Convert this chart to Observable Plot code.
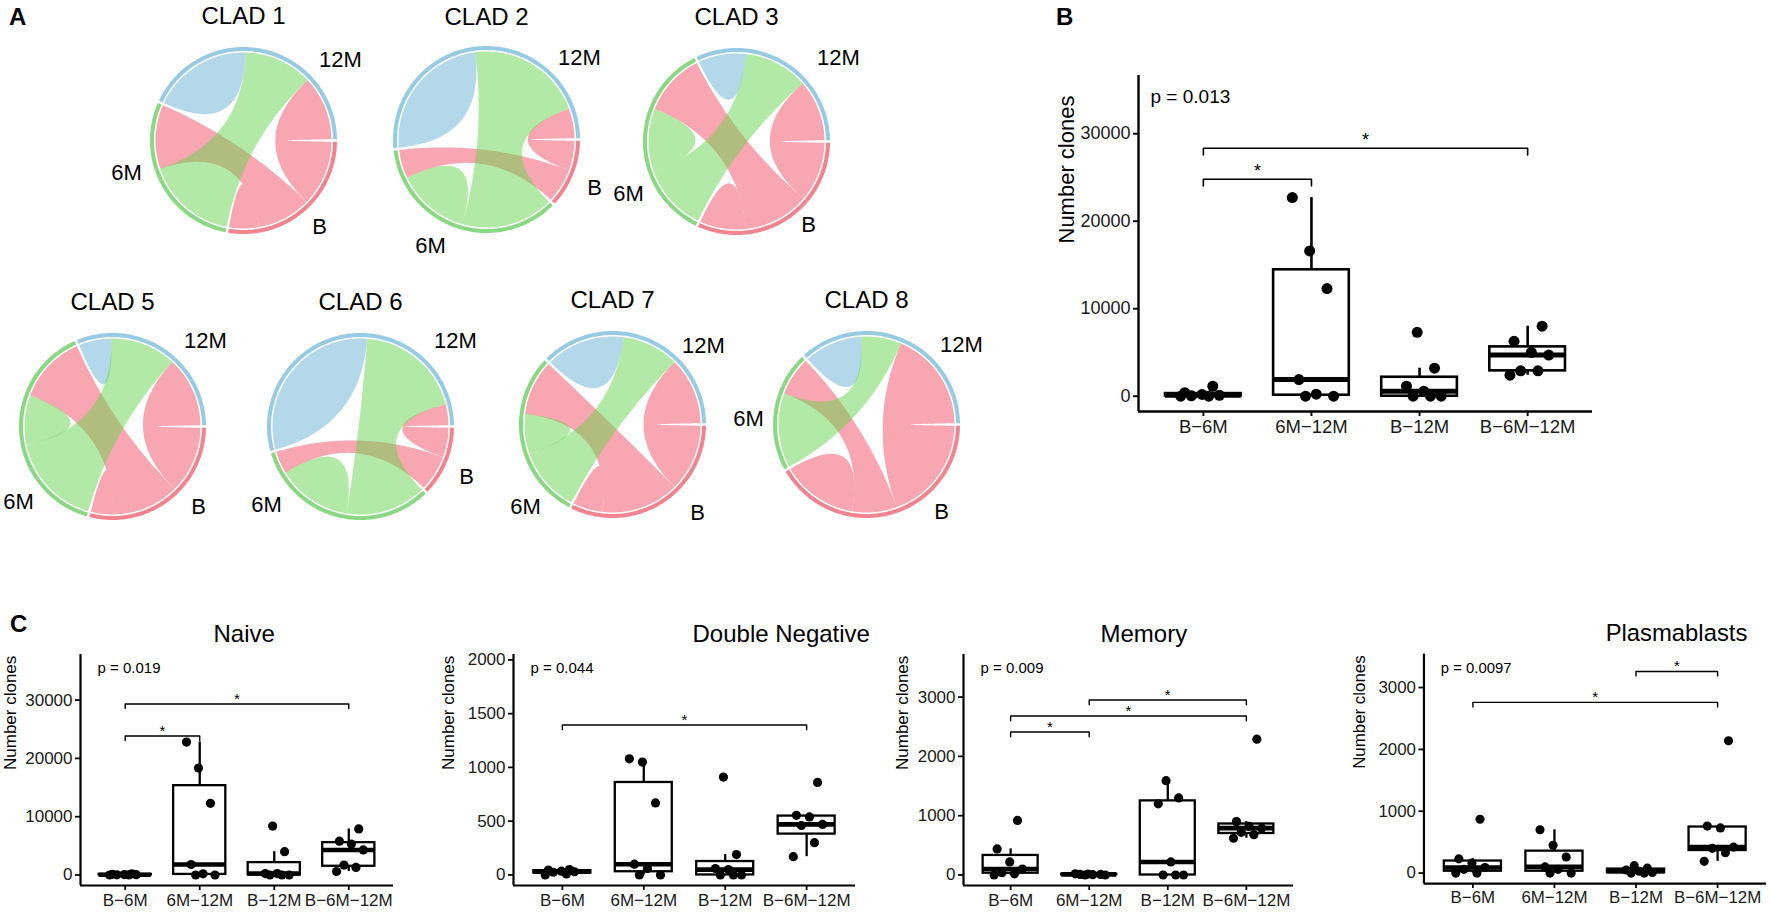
<!DOCTYPE html>
<html><head><meta charset="utf-8">
<script src="https://cdn.jsdelivr.net/npm/d3@7"></script>
<script src="https://cdn.jsdelivr.net/npm/@observablehq/plot@0.6"></script>
<style>
body{margin:0;background:#fff;}
#fig{position:relative;width:1772px;height:915px;overflow:hidden;background:#fff;font-family:"Liberation Sans",Arial,Helvetica,sans-serif;}
.pl{position:absolute;}
.letter{position:absolute;font-weight:bold;font-size:24px;line-height:24px;color:#000;}
</style></head><body><div id="fig"></div>
<script>
// ---------- DATA ----------
const groups = ["B−6M","6M−12M","B−12M","B−6M−12M"];
const cladNames = ["CLAD 1","CLAD 2","CLAD 3","CLAD 5","CLAD 6","CLAD 7","CLAD 8"];
// chord ends, counter-clockwise from 3 o'clock: [sector, link, width]
const clad1 = [["12M","B-12M",43],["12M","6M-12M",46],["12M","12M",67],["6M","B-6M",43],["6M","6M-12M",61],["B","B",20],["B","B-6M",36],["B","B-12M",44]];
const clad2 = [["12M","B-12M",20],["12M","6M-12M",78],["12M","12M",89],["6M","B-6M",19],["6M","6M",49],["6M","6M-12M",62],["B","B-6M",23],["B","B-12M",20]];
const clad3 = [["12M","B-12M",41],["12M","6M-12M",43],["12M","12M",32],["6M","B-6M",42],["6M","6M",42],["6M","6M-12M",45],["B","B",31],["B","B-6M",44],["B","B-12M",40]];
const clad5 = [["12M","B-12M",47],["12M","6M-12M",44],["12M","12M",22],["6M","B-6M",46],["6M","6M",33],["6M","6M-12M",63],["B","B",15],["B","B-6M",45],["B","B-12M",45]];
const clad6 = [["12M","B-12M",14],["12M","6M-12M",72],["12M","12M",111],["6M","B-6M",15],["6M","6M",50],["6M","6M-12M",54],["B","B-6M",24],["B","B-12M",20]];
const clad7 = [["12M","B-12M",45],["12M","6M-12M",38],["12M","12M",53],["6M","B-6M",37],["6M","6M",27],["6M","6M-12M",43],["B","B",20],["B","B-6M",52],["B","B-12M",45]];
const clad8 = [["12M","B-12M",67],["12M","6M-12M",27],["12M","12M",39],["6M","B-6M",26],["6M","6M-12M",50],["B","B",51],["B","B-6M",30],["B","B-12M",70]];

// number of clones per patient (7 patients) for each comparison group
const totalClones = [[0,0,50,100,200,400,1140],[0,0,230,1900,12300,16600,22700],[0,0,0,570,1140,3200,7300],[2400,2900,2900,4700,5000,6280,8000]];
const naiveClones = [[0,10,30,50,80,120,200],[0,0,200,1800,12300,18350,22800],[0,0,0,250,250,4000,8400],[600,1300,1700,4300,5300,5800,7900]];
const dnClones = [[0,10,25,30,35,45,50],[0,0,60,100,670,1050,1080],[0,0,0,50,60,190,910],[170,300,460,470,540,555,860]];
const memoryClones = [[0,20,40,100,220,440,920],[0,0,5,10,10,15,20],[0,0,0,220,1200,1300,1590],[620,680,720,790,820,900,2290]];
const plasmaClones = [[0,0,60,90,160,230,870],[0,0,60,100,260,450,700],[0,0,10,30,50,80,120],[190,330,400,420,730,760,2140]];
// significance brackets: [group a, group b, height]
const totalBrackets = [[0,3,28340],[0,1,24800]];
const naiveBrackets = [[0,3,29330],[0,1,23840]];
const dnBrackets = [[0,3,1394]];
const memoryBrackets = [[1,3,2950],[0,3,2680],[0,1,2410]];
const plasmaBrackets = [[2,3,3260],[0,3,2760]];
const pValues = ["p = 0.013","p = 0.019","p = 0.044","p = 0.009","p = 0.0097"];
const subsetTitles = ["Naive","Double Negative","Memory","Plasmablasts"];
const ticks30k = [0,10000,20000,30000];
const ticks2k = [0,500,1000,1500,2000];
const ticks3k = [0,1000,2000,3000];

// ---------- RENDER ----------
const FONT = '"Liberation Sans", Arial, Helvetica, sans-serif';
const fig = document.getElementById("fig");
function place(node, left, top){const d=document.createElement("div");d.className="pl";d.style.left=left+"px";d.style.top=top+"px";d.appendChild(node);fig.appendChild(d);}
function letter(t,left,top){const d=document.createElement("div");d.className="letter";d.textContent=t;d.style.left=left+"px";d.style.top=top+"px";fig.appendChild(d);}

// red & blue ribbons drawn as light opaque tints, green ribbons semi-transparent on top
const ribbonStyle = {"B":{col:"#F8A6B1",order:0},"12M":{col:"#B3D8EA",order:1},"6M":{col:"#67D34D",order:2}};
const trackColor = {"B":"#F2848F","6M":"#8AD784","12M":"#96CBE3"};

function chord(name, ends, lay){
  const RT=91.5, RR=88, gap=1.6, W=330, H=300;
  const total=d3.sum(ends,e=>e[2]);
  const k=(360-3*gap)/total;
  let a=gap/2, prev=null;
  const placed=ends.map(([sec,link,w])=>{ if(prev&&sec!==prev) a+=gap; prev=sec; const a0=a; a+=w*k; return {sec,link,a0,a1:a}; });
  const rad=d=>d*Math.PI/180;
  const pt=(ang,r)=>[r*Math.cos(rad(ang)),r*Math.sin(rad(ang))];
  const arcPts=(a0,a1,r)=>{const n=Math.max(2,Math.ceil(Math.abs(a1-a0)));return d3.range(n+1).map(i=>pt(a0+(a1-a0)*i/n,r));};
  const bez=(p,q)=>d3.range(1,48).map(i=>{const t=i/48,u=1-t;return [u*u*p[0]+t*t*q[0],u*u*p[1]+t*t*q[1]];});
  const ribbons=[];
  for(const [link,es] of d3.groups(placed,d=>d.link)){
    let poly;
    if(es.length===1){const e=es[0];poly=[...arcPts(e.a0,e.a1,RR),...bez(pt(e.a1,RR),pt(e.a0,RR))];}
    else{const [A,B]=es;poly=[...arcPts(A.a0,A.a1,RR),...bez(pt(A.a1,RR),pt(B.a0,RR)),...arcPts(B.a0,B.a1,RR),...bez(pt(B.a1,RR),pt(A.a0,RR))];}
    const st=ribbonStyle[link.split("-")[0]];
    poly.forEach(([x,y])=>ribbons.push({id:link,x,y,col:st.col,order:st.order}));
  }
  const layer=o=>ribbons.filter(d=>d.order===o);
  const tracks=d3.groups(placed,d=>d.sec).flatMap(([sec,es])=>arcPts(es[0].a0,es[es.length-1].a1,RT).map(([x,y])=>({sec,x,y,col:trackColor[sec]})));
  const labs=Object.entries(lay.labels).map(([t,[dx,dy]])=>({t,x:dx,y:-dy}));
  const chart=Plot.plot({
    width:W,height:H,margin:0,
    x:{domain:[-W/2,W/2],axis:null},y:{domain:[-H/2,H/2],axis:null},
    color:{type:"identity"},
    style:{fontFamily:FONT,background:"transparent",overflow:"visible",color:"#000"},
    marks:[
      ...[0,1,2].map(o=>Plot.line(layer(o),{x:"x",y:"y",z:"id",fill:"col",fillOpacity:o===2?0.5:1,stroke:"none",curve:"linear"})),
      Plot.line(tracks,{x:"x",y:"y",z:"sec",stroke:"col",strokeWidth:4,strokeLinecap:"butt",curve:"linear"}),
      Plot.text(labs,{x:"x",y:"y",text:"t",fontSize:22,fill:"#000"}),
      Plot.text([name],{x:0,y:lay.ty,text:d=>d,fontSize:24,fill:"#000"})
    ]
  });
  place(chart, lay.cx-W/2, lay.cy-H/2);
}

const chordLayout = [
  {cx:243,cy:140,ty:124,labels:{"12M":[97,-81],"6M":[-117,32],"B":[76,86]}},
  {cx:486,cy:139,ty:122,labels:{"12M":[93,-82],"B":[108,48],"6M":[-56,106]}},
  {cx:736,cy:141,ty:124,labels:{"12M":[102,-84],"6M":[-108,52],"B":[72,83]}},
  {cx:112,cy:426,ty:124,labels:{"12M":[93,-86],"6M":[-94,75],"B":[86,80]}},
  {cx:360,cy:426,ty:124,labels:{"12M":[95,-86],"B":[106,50],"6M":[-94,78]}},
  {cx:612,cy:424,ty:124,labels:{"12M":[91,-79],"6M":[-87,82],"B":[85,88]}},
  {cx:866,cy:424,ty:124,labels:{"12M":[95,-80],"6M":[-118,-6],"B":[75,87]}}
];
[clad1,clad2,clad3,clad5,clad6,clad7,clad8].forEach((e,i)=>chord(cladNames[i],e,chordLayout[i]));

const jit=(j,k)=>((((j*0.6180339+k*0.37)%1)-0.5)*0.42);

function boxPanel(o){
  const stats=o.values.map((vals,k)=>{
    const s=vals.slice().sort(d3.ascending);
    const q1=d3.quantile(s,.25),med=d3.quantile(s,.5),q3=d3.quantile(s,.75),iqr=q3-q1;
    return {i:k+1,q1,med,q3,lo:d3.min(s.filter(v=>v>=q1-1.5*iqr)),hi:d3.max(s.filter(v=>v<=q3+1.5*iqr))};
  });
  const pts=o.values.flatMap((vals,k)=>vals.map((v,j)=>({i:k+1,v,jit:jit(j,k)})));
  const span=o.yDomain[1]-o.yDomain[0], tip=0.02*span;
  const br=o.brackets.map(([a,b,y],n)=>({a:a+1,b:b+1,y,n}));
  const brPts=br.flatMap(d=>[{n:d.n,x:d.a,y:d.y-tip},{n:d.n,x:d.a,y:d.y},{n:d.n,x:d.b,y:d.y},{n:d.n,x:d.b,y:d.y-tip}]);
  const W=o.ml+o.pw+o.mr,H=o.mt+o.ph+o.mb;
  const marks=[
    Plot.axisY({ticks:o.yTicks,tickFormat:d3.format("d"),tickSize:5,tickPadding:3,fontSize:o.tickFont,label:null,strokeWidth:o.axisW*0.8,fill:"#1a1a1a"}),
    Plot.axisX({ticks:[1,2,3,4],tickFormat:d=>groups[d-1],tickSize:5,tickPadding:3,fontSize:o.xFont,label:null,strokeWidth:o.axisW*0.8,fill:"#1a1a1a"}),
    Plot.ruleX([0.4],{strokeWidth:o.axisW}),
    Plot.ruleY([o.yDomain[0]],{strokeWidth:o.axisW}),
    Plot.ruleX(stats,{x:"i",y1:"lo",y2:"q1",strokeWidth:o.lw}),
    Plot.ruleX(stats,{x:"i",y1:"q3",y2:"hi",strokeWidth:o.lw}),
    Plot.rect(stats,{x1:d=>d.i-0.35,x2:d=>d.i+0.35,y1:"q1",y2:"q3",fill:"white",stroke:"black",strokeWidth:o.lw}),
    Plot.ruleY(stats,{y:"med",x1:d=>d.i-0.35,x2:d=>d.i+0.35,strokeWidth:o.mw}),
    Plot.dot(pts,{x:d=>d.i+d.jit,y:"v",r:o.r,fill:"black",stroke:"none"}),
    Plot.line(brPts,{x:"x",y:"y",z:"n",stroke:"black",strokeWidth:o.bw}),
    Plot.text(br,{x:d=>(d.a+d.b)/2,y:"y",text:()=>"*",dy:o.starDy,fontSize:o.starFont,fill:"#000"}),
    Plot.text([o.p],{frameAnchor:"top-left",text:d=>d,textAnchor:"start",dx:o.pdx,dy:o.pdy,fontSize:o.pFont,fill:"#000"}),
    Plot.text(["Number clones"],{frameAnchor:"left",text:d=>d,rotate:-90,dx:-o.ylo,fontSize:o.yLabFont,fill:"#000"})
  ];
  if(o.title) marks.push(Plot.text([o.title],{frameAnchor:"top-left",text:d=>d,dx:o.titleX-o.axisX,dy:o.titleY-o.top,fontSize:o.titleFont,fill:"#000"}));
  const chart=Plot.plot({width:W,height:H,marginLeft:o.ml,marginRight:o.mr,marginTop:o.mt,marginBottom:o.mb,
    x:{domain:[0.4,4.6],axis:null},y:{domain:o.yDomain,axis:null},
    style:{fontFamily:FONT,background:"transparent",overflow:"visible",color:"#000"},marks});
  place(chart,o.axisX-o.ml,o.top-o.mt);
}

// Panel B
boxPanel({values:totalClones,brackets:totalBrackets,p:pValues[0],yTicks:ticks30k,yDomain:[-1745,36655],
  axisX:1138,pw:454,top:75,ph:336,ml:120,mr:10,mt:20,mb:50,
  tickFont:18,xFont:18.5,yLabFont:22,pFont:19,starFont:18,starDy:-8,pdx:12,pdy:14,ylo:72,
  lw:2.6,mw:5,axisW:2.4,bw:1.6,r:5.5});
// Panel C
const cCommon={top:654,ph:231,ml:80,mr:6,mt:50,mb:40,tickFont:17,xFont:17,yLabFont:17,pFont:15,starFont:15,starDy:-5,pdx:17,pdy:8,
  lw:2.3,mw:4.6,axisW:2.2,bw:1.4,r:4.6,titleFont:24,titleY:624};
boxPanel({...cCommon,values:naiveClones,brackets:naiveBrackets,p:pValues[1],yTicks:ticks30k,yDomain:[-1800,37820],axisX:80,pw:313,ylo:70,title:subsetTitles[0],titleX:213});
boxPanel({...cCommon,values:dnClones,brackets:dnBrackets,p:pValues[2],yTicks:ticks2k,yDomain:[-98,2050],axisX:513,pw:342,ylo:65,title:subsetTitles[1],titleX:692});
boxPanel({...cCommon,values:memoryClones,brackets:memoryBrackets,p:pValues[3],yTicks:ticks3k,yDomain:[-177,3718],axisX:963,pw:330,ylo:61,title:subsetTitles[2],titleX:1100});
boxPanel({...cCommon,values:plasmaClones,brackets:plasmaBrackets,p:pValues[4],yTicks:ticks3k,yDomain:[-169,3540],axisX:1424,pw:345,ylo:65,title:subsetTitles[3],titleX:1607});

letter("A",9,5);
letter("B",1056,5);
letter("C",10,612);
</script></body></html>
